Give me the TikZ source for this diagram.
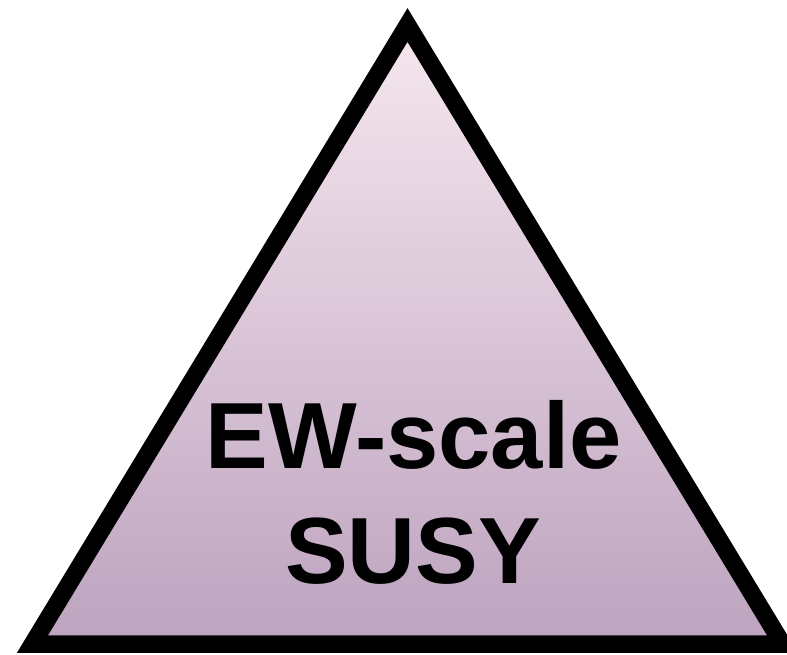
\documentclass[tikz,border=0pt]{standalone}
\usepackage{fontspec}
\setmainfont{Liberation Sans}
\definecolor{toppink}{HTML}{F6E7EE}
\definecolor{botmauve}{HTML}{BDA3BF}
\tikzset{
  label text/.style={font=\fontsize{94}{112}\selectfont\bfseries, inner sep=0pt, anchor=base, text=black},
  tri/.style={line width=17.5pt, line join=miter, draw=black}
}
\begin{document}
\begin{tikzpicture}[x=1pt,y=1pt]
\useasboundingbox (0,0) rectangle (787,654);
\clip (0,0) rectangle (787,654);
\fill[white] (0,0) rectangle (787,654);
\coordinate (apex) at (407.5,629);
\coordinate (bl) at (32.5,10);
\coordinate (br) at (782.5,10);
\shade[top color=toppink, bottom color=botmauve] (apex) -- (bl) -- (br) -- cycle;
\draw[tri] (apex) -- (bl) -- (br) -- cycle;
\node[label text] (line1) at (413.5,186) {EW-scale};
\node[label text] (line2) at (413,71) {SUSY};
\end{tikzpicture}
\end{document}
